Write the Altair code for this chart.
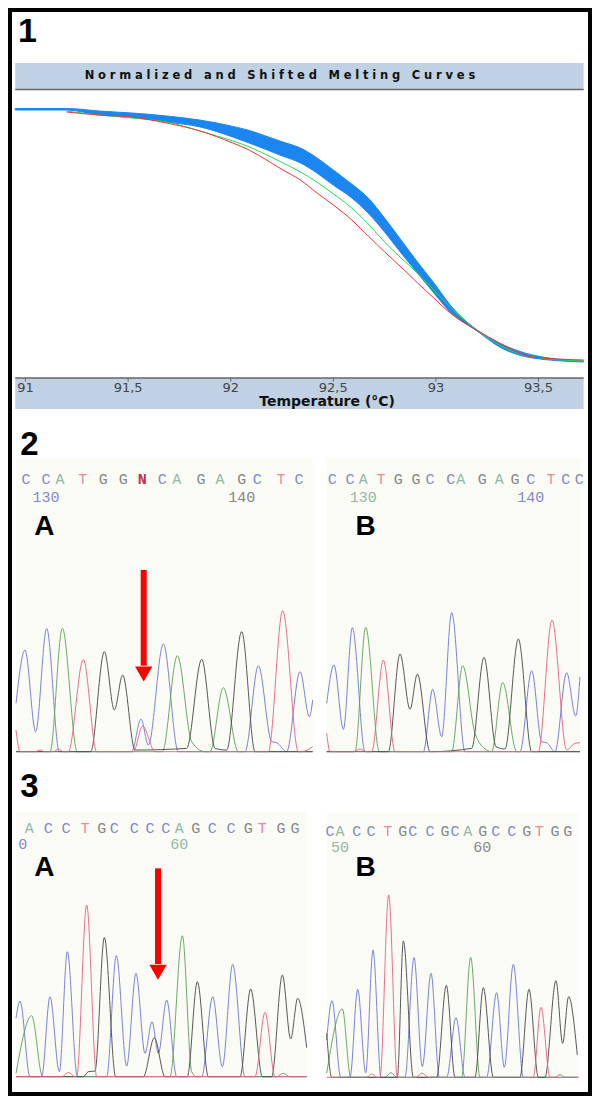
import altair as alt
import pandas as pd

# ---------- melting curves (temperature in deg C, normalised fluorescence in %) ----------
melt_t = [90.95, 91.2, 91.36, 91.52, 91.69, 91.85, 92.01, 92.09, 92.17, 92.25, 92.34, 92.42,
          92.5, 92.59, 92.67, 92.75, 92.83, 92.91, 92.99, 93.07, 93.2, 93.31, 93.47, 93.72]
blue_hi = [100.2, 100.2, 99.2, 98.4, 97.2, 95.6, 93.1, 91.5, 89.3, 87.0, 84.5, 80.6,
           75.8, 70.2, 64.7, 56.7, 48.0, 39.3, 31.0, 22.2, 12.3, 7.1, 2.4, 0.0]
blue_lo = [99.6, 99.6, 97.6, 96.8, 94.8, 92.9, 88.9, 86.5, 84.0, 81.4, 78.6, 74.6,
           69.8, 64.7, 58.7, 51.2, 42.9, 34.9, 27.0, 19.4, 11.9, 5.6, 1.2, -0.4]
green_t = melt_t[1:]
green_f = [99.2, 97.6, 96.4, 94.8, 91.3, 87.3, 85.0, 82.0, 78.8, 75.0, 71.0,
           66.3, 60.7, 54.4, 47.2, 40.9, 34.9, 28.2, 21.4, 12.3, 6.3, 1.6, 0.0]
red_f = [98.8, 97.6, 96.8, 94.4, 91.3, 86.5, 83.7, 80.0, 76.0, 71.8, 66.7,
         61.9, 56.0, 49.6, 43.3, 37.3, 31.0, 25.0, 19.0, 12.3, 7.1, 1.6, 0.4]
tick_t = [91, 91.5, 92, 92.5, 93, 93.5]
tick_labels = ["91", "91,5", "92", "92,5", "93", "93,5"]
melt_title = "\u2004".join("Normalized and Shifted Melting Curves")
melt_xlabel = "Temperature (°C)"

# ---------- sequencing traces: scan position, signal ----------
a2_blue_x = [48, 75, 107, 140, 178, 395, 423, 445, 490, 535, 735, 775, 815, 830, 860, 900, 928, 938]
a2_blue_y = [145, 305, 60, 370, 0, 0, 98, 20, 323, 0, 0, 258, 30, 27, 0, 240, 105, 155]
a2_green_x = [48, 150, 187, 232, 487, 532, 575, 615, 630, 670, 715, 938]
a2_green_y = [0, 0, 370, 0, 0, 288, 30, 0, 0, 192, 0, 0]
a2_black_x = [48, 272, 313, 343, 368, 405, 560, 605, 645, 680, 725, 765, 938]
a2_black_y = [0, 0, 300, 125, 230, 5, 10, 277, 10, 5, 360, 0, 0]
a2_red_x = [48, 60, 105, 120, 135, 160, 175, 190, 205, 250, 290, 400, 428, 465, 805, 848, 895, 905, 938]
a2_red_y = [65, 0, 0, 5, 0, 0, 8, 0, 0, 277, 0, 0, 77, 0, 0, 423, 0, 0, 15]
a2_bases = list("CCATGGNCAGAGCTC")
a2_base_x = [78, 138, 180, 248, 310, 370, 427, 487, 530, 603, 660, 725, 772, 843, 897]
a2_nums = ["130", "140"]
a2_num_x = [138, 725]
a2_num_base = ["C", "G"]

b2_blue_x = [20, 42, 70, 97, 135, 310, 338, 365, 395, 435, 600, 635, 665, 680, 705, 740, 767, 780]
b2_blue_y = [145, 260, 67, 372, 0, 0, 187, 45, 417, 0, 0, 243, 30, 27, 0, 237, 107, 225]
b2_green_x = [20, 105, 137, 178, 395, 428, 465, 500, 515, 548, 590, 780]
b2_green_y = [0, 0, 373, 0, 0, 258, 55, 5, 0, 208, 0, 0]
b2_black_x = [20, 205, 240, 270, 292, 330, 455, 492, 528, 555, 595, 635, 780]
b2_black_y = [0, 0, 293, 127, 233, 0, 10, 283, 15, 8, 338, 0, 0]
b2_red_x = [20, 30, 100, 120, 140, 155, 190, 225, 655, 696, 740, 765, 780]
b2_red_y = [55, 0, 0, 8, 0, 0, 275, 0, 0, 395, 5, 25, 27]
b2_bases = list("CCATGGCCAGAGCTCC")
b2_base_x = [37, 90, 130, 183, 235, 288, 330, 392, 422, 487, 538, 585, 632, 693, 737, 778]
b2_nums = ["130", "140"]
b2_num_x = [130, 632]
b2_num_base = ["A", "C"]

a3_blue_x = [48, 60, 90, 125, 150, 178, 202, 232, 320, 349, 380, 408, 435, 456, 475, 500, 530, 605, 638, 667, 698, 735, 920]
a3_blue_y = [175, 227, 0, 0, 240, 15, 375, 0, 0, 363, 32, 310, 70, 165, 70, 230, 0, 0, 240, 30, 337, 0, 0]
a3_green_x = [48, 95, 128, 510, 547, 575, 590, 830, 850, 870, 920]
a3_green_y = [10, 183, 0, 0, 423, 15, 0, 0, 10, 0, 0]
a3_black_x = [48, 250, 265, 285, 313, 347, 430, 463, 495, 562, 592, 625, 720, 752, 787, 815, 847, 872, 893, 920]
a3_black_y = [0, 0, 15, 17, 418, 0, 0, 117, 0, 0, 285, 0, 0, 263, 0, 0, 305, 113, 235, 87]
a3_red_x = [48, 185, 205, 225, 230, 260, 290, 765, 795, 825, 920]
a3_red_y = [0, 0, 13, 0, 0, 515, 0, 0, 193, 0, 0]
a3_bases = list("ACCTGCCCCAGCCGTGG")
a3_base_x = [88, 145, 198, 255, 305, 343, 403, 450, 497, 538, 587, 637, 693, 745, 787, 843, 885]
a3_nums = ["0", "60"]
a3_num_x = [68, 538]
a3_num_base = ["C", "A"]

b3_blue_x = [20, 36, 62, 90, 113, 137, 159, 183, 255, 282, 307, 333, 358, 380, 408, 435, 500, 530, 553, 580, 610, 775]
b3_blue_y = [112, 230, 0, 0, 264, 14, 382, 0, 0, 359, 32, 312, 0, 0, 179, 0, 0, 254, 30, 339, 0, 0]
b3_green_x = [20, 67, 92, 195, 213, 230, 425, 452, 480, 705, 720, 735, 775]
b3_green_y = [12, 205, 0, 0, 14, 0, 0, 360, 0, 0, 8, 0, 0]
b3_black_x = [20, 35, 232, 250, 280, 350, 379, 405, 465, 490, 520, 600, 627, 655, 675, 708, 728, 746, 772]
b3_black_y = [132, 0, 0, 409, 0, 0, 276, 0, 0, 269, 0, 0, 264, 0, 0, 290, 102, 242, 67]
b3_red_x = [20, 140, 155, 170, 180, 206, 232, 290, 305, 325, 640, 663, 690, 775]
b3_red_y = [0, 0, 10, 0, 0, 547, 0, 0, 13, 0, 0, 210, 0, 0]
b3_bases = list("CACCTGCCGCAGCCGTGG")
b3_base_x = [30, 60, 110, 153, 203, 248, 278, 330, 375, 405, 443, 488, 527, 575, 620, 658, 705, 743]
b3_nums = ["50", "60"]
b3_num_x = [60, 487]
b3_num_base = ["A", "G"]

# ---------- styling ----------
ORIGIN = 10   # page pixel of the chart's own (0, 0)
BAND = "#BFD1E3"
TRACE = {"blue": "#6E74CC", "green": "#5C9E58", "black": "#454545", "red": "#E4607E"}
BASE_COL = {"C": "#8288C8", "A": "#90B8A4", "T": "#E48C9C", "G": "#868686", "N": "#C42E50"}
MONO = "Liberation Mono"
SANS = "Liberation Sans"

layers = []


def melt_scales():
    x = alt.Scale(domain=[91, 93.5], range=[25.5 - ORIGIN, 538.5 - ORIGIN], nice=False, zero=False)
    y = alt.Scale(domain=[0, 100], range=[361 - ORIGIN, 109 - ORIGIN], nice=False, zero=False)
    return x, y


def mx(f="t"):
    return alt.X(f"{f}:Q", scale=melt_scales()[0], axis=None)


def my(f="f"):
    return alt.Y(f"{f}:Q", scale=melt_scales()[1], axis=None)


def melt_band(f1, f2):
    d = pd.DataFrame({"t": [melt_t[0]], "t2": [melt_t[-1]], "f": [f1], "f2": [f2]})
    layers.append(alt.Chart(d).mark_rect(color=BAND).encode(x=mx(), x2="t2:Q", y=my(), y2="f2:Q"))


def melt_rule(f):
    d = pd.DataFrame({"t": [melt_t[0]], "t2": [melt_t[-1]], "f": [f]})
    layers.append(alt.Chart(d).mark_rule(color="#666666", strokeWidth=1.5).encode(x=mx(), x2="t2:Q", y=my()))


melt_band(118.3, 107.5)
melt_band(-6.7, -19.0)
melt_rule(107.7)
melt_rule(-6.7)

ticks = pd.DataFrame({"t": tick_t, "f": [-6.7] * 6, "f2": [-8.2] * 6, "fl": [-10.8] * 6, "label": tick_labels})
layers.append(alt.Chart(ticks).mark_rule(color="#666666").encode(x=mx(), y=my(), y2="f2:Q"))
layers.append(alt.Chart(ticks).mark_text(font="DejaVu Sans", fontSize=13, color="#444444", baseline="middle")
              .encode(x=mx(), y=my("fl"), text="label:N"))

layers.append(alt.Chart(pd.DataFrame({"t": [92.24], "f": [112.9], "s": [melt_title]}))
              .mark_text(font="DejaVu Sans", fontWeight="bold", fontSize=11.5, color="#111111", baseline="middle")
              .encode(x=mx(), y=my(), text="s:N"))
layers.append(alt.Chart(pd.DataFrame({"t": [92.47], "f": [-16.3], "s": [melt_xlabel]}))
              .mark_text(font="DejaVu Sans", fontWeight="bold", fontSize=14, color="#111111", baseline="middle")
              .encode(x=mx(), y=my(), text="s:N"))
layers.append(alt.Chart(pd.DataFrame({"t": [91.01], "f": [130.6], "s": ["1"]}))
              .mark_text(font=SANS, fontWeight="bold", fontSize=34, color="black", baseline="middle")
              .encode(x=mx(), y=my(), text="s:N"))

layers.append(alt.Chart(pd.DataFrame({"t": melt_t, "f": blue_hi, "f2": blue_lo}))
              .mark_area(color="#1C86F0", stroke="#1C86F0", strokeWidth=1, interpolate="monotone")
              .encode(x=mx(), y=my(), y2="f2:Q"))
layers.append(alt.Chart(pd.DataFrame({"t": green_t, "f": green_f}))
              .mark_line(color="#22DD55", strokeWidth=1, interpolate="monotone").encode(x=mx(), y=my()))
layers.append(alt.Chart(pd.DataFrame({"t": green_t, "f": red_f}))
              .mark_line(color="#F03434", strokeWidth=1, interpolate="monotone").encode(x=mx(), y=my()))


def panel(left_val, right_val, top_val, base_val, left_px, right_px, top_px, base_px, traces,
          bases, base_x, base_y, nums, num_x, num_y, num_base, labels, arrow=None):
    sx = lambda: alt.Scale(domain=[left_val, right_val], range=[left_px - ORIGIN, right_px - ORIGIN], nice=False, zero=False)
    sy = lambda: alt.Scale(domain=[0, base_val - top_val], range=[base_px - ORIGIN, top_px - ORIGIN], nice=False, zero=False)
    X = lambda: alt.X("x:Q", scale=sx(), axis=None)
    Y = lambda: alt.Y("y:Q", scale=sy(), axis=None)

    bg = pd.DataFrame({"x": [left_val], "x2": [right_val], "y": [0], "y2": [base_val - top_val]})
    layers.append(alt.Chart(bg).mark_rect(color="#FBFBF6").encode(x=X(), x2="x2:Q", y=Y(), y2="y2:Q"))

    for col, xs, ys in traces:
        d = pd.DataFrame({"x": xs, "y": ys, "o": range(len(xs))})
        layers.append(alt.Chart(d).mark_line(color=TRACE[col], strokeWidth=1, interpolate="monotone", opacity=0.9)
                      .encode(x=X(), y=Y(), order="o:Q"))

    d = pd.DataFrame({"x": base_x, "y": [base_val - base_y] * len(base_x), "b": bases,
                      "c": [BASE_COL[b] for b in bases]})
    plain = d[d["b"] != "N"]
    layers.append(alt.Chart(plain).mark_text(font=MONO, fontSize=15, baseline="middle")
                  .encode(x=X(), y=Y(), text="b:N", color=alt.Color("c:N", scale=None)))
    special = d[d["b"] == "N"]
    if len(special):
        layers.append(alt.Chart(special).mark_text(font=MONO, fontSize=15, fontWeight="bold", baseline="middle")
                      .encode(x=X(), y=Y(), text="b:N", color=alt.Color("c:N", scale=None)))

    n = pd.DataFrame({"x": num_x, "y": [base_val - num_y] * len(num_x), "s": nums,
                      "c": [BASE_COL[b] for b in num_base]})
    layers.append(alt.Chart(n).mark_text(font=MONO, fontSize=15, baseline="middle")
                  .encode(x=X(), y=Y(), text="s:N", color=alt.Color("c:N", scale=None)))

    for s, x, py, size in labels:
        layers.append(alt.Chart(pd.DataFrame({"x": [x], "y": [base_val - py], "s": [s]}))
                      .mark_text(font=SANS, fontWeight="bold", fontSize=size, color="black", baseline="middle")
                      .encode(x=X(), y=Y(), text="s:N"))

    if arrow:
        ax, y1, y2, yh = arrow
        layers.append(alt.Chart(pd.DataFrame({"x": [ax], "y": [y1], "y2": [y2]}))
                      .mark_rule(color="#FF0000", strokeWidth=6).encode(x=X(), y=Y(), y2="y2:Q"))
        layers.append(alt.Chart(pd.DataFrame({"x": [ax], "y": [yh]}))
                      .mark_point(shape="triangle-down", filled=True, color="#FF0000", opacity=1, size=300)
                      .encode(x=X(), y=Y()))


panel(48, 938, 115, 995, 16, 312.7, 458.3, 751.7,
      [("blue", a2_blue_x, a2_blue_y), ("green", a2_green_x, a2_green_y),
       ("black", a2_black_x, a2_black_y), ("red", a2_red_x, a2_red_y)],
      a2_bases, a2_base_x, 178, a2_nums, a2_num_x, 232, a2_num_base,
      [("2", 88, 75, 33), ("A", 133, 320, 28)], arrow=(431, 545, 258, 233))
panel(20, 780, 25, 905, 326.7, 580, 458.3, 751.7,
      [("blue", b2_blue_x, b2_blue_y), ("green", b2_green_x, b2_green_y),
       ("black", b2_black_x, b2_black_y), ("red", b2_red_x, b2_red_y)],
      b2_bases, b2_base_x, 88, b2_nums, b2_num_x, 140, b2_num_base,
      [("B", 137, 230, 28)])
panel(48, 920, 140, 935, 16, 306.7, 811.7, 1076.7,
      [("blue", a3_blue_x, a3_blue_y), ("green", a3_green_x, a3_green_y),
       ("black", a3_black_x, a3_black_y), ("red", a3_red_x, a3_red_y)],
      a3_bases, a3_base_x, 188, a3_nums, a3_num_x, 237, a3_num_base,
      [("3", 88, 65, 33), ("A", 133, 310, 28)], arrow=(474, 625, 338, 313))
panel(20, 775, 40, 832, 326.7, 578.3, 813.3, 1077.3,
      [("blue", b3_blue_x, b3_blue_y), ("green", b3_green_x, b3_green_y),
       ("black", b3_black_x, b3_black_y), ("red", b3_red_x, b3_red_y)],
      b3_bases, b3_base_x, 93, b3_nums, b3_num_x, 140, b3_num_base,
      [("B", 137, 203, 28)])

chart = (
    alt.layer(*layers)
    .resolve_scale(x="independent", y="independent")
    .properties(width=580, height=1084, padding=2, autosize=alt.AutoSizeParams(type="none"), background="white")
    .configure_view(stroke="black", strokeWidth=4)
)
chart.save("out.html", embed_options={"renderer": "svg", "actions": False})
